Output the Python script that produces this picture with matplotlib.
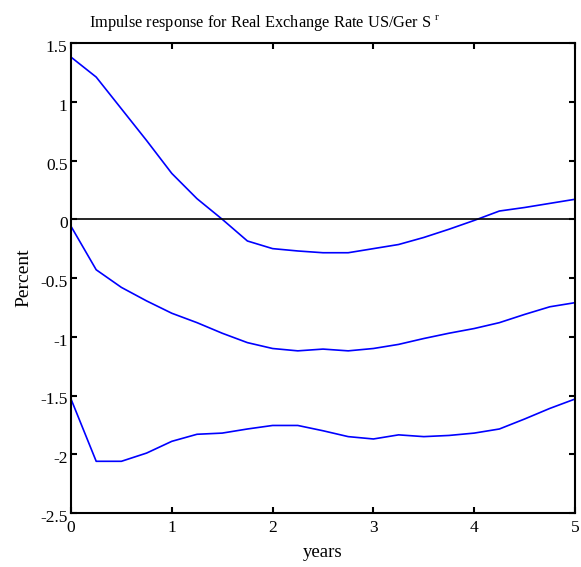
import numpy as np
import matplotlib
matplotlib.use('Agg')
import matplotlib.pyplot as plt
import matplotlib.transforms as mtransforms

#%% data

years = np.arange(0, 5.01, 0.25)

irf_upper = [1.38, 1.21, 0.94, 0.67, 0.39, 0.175, 0.0, -0.185, -0.25, -0.27, -0.285,
             -0.285, -0.25, -0.215, -0.155, -0.085, -0.01, 0.07, 0.10, 0.135, 0.17]
irf_mid = [-0.06, -0.43, -0.58, -0.695, -0.80, -0.88, -0.97, -1.05, -1.10, -1.12, -1.105,
           -1.12, -1.10, -1.065, -1.015, -0.97, -0.93, -0.88, -0.81, -0.745, -0.71]
irf_lower = [-1.53, -2.06, -2.06, -1.99, -1.89, -1.83, -1.82, -1.785, -1.755, -1.755, -1.80,
             -1.85, -1.87, -1.835, -1.85, -1.84, -1.82, -1.785, -1.70, -1.61, -1.53]

xticks = [0, 1, 2, 3, 4, 5]
yticks = [-2.5, -2, -1.5, -1, -0.5, 0, 0.5, 1, 1.5]
yticklabels = ['-2.5', '-2', '-1.5', '-1', '-0.5', '0', '0.5', '1', '1.5']

#%% plot

plt.rcParams['font.family'] = 'Liberation Serif'
plt.rcParams['mathtext.fontset'] = 'custom'
plt.rcParams['mathtext.rm'] = 'Liberation Serif'

fig = plt.figure(figsize=(5.81, 5.67), dpi=100)
ax = fig.add_axes([71/581, 54/567, 504/581, 470/567])

for y in (irf_upper, irf_mid, irf_lower):
    ax.plot(years, y, color='#0000ff', lw=1.2)
ax.axhline(0, color='black', lw=1.2)

ax.set_xlim(0, 5)
ax.set_ylim(-2.5, 1.5)
ax.set_xticks(xticks)
ax.set_yticks(yticks)
ax.set_yticklabels(yticklabels)
ax.tick_params(direction='in', length=4, width=1.5, top=True, right=True,
               labelsize=12.5)
ax.tick_params(axis='x', pad=5)
ax.tick_params(axis='y', pad=2.5)
for s in ax.spines.values():
    s.set_linewidth(1.5)

# y tick labels sit slightly below their ticks
shift = mtransforms.ScaledTranslation(0, -3/100, fig.dpi_scale_trans)
for lab in ax.get_yticklabels():
    lab.set_transform(lab.get_transform() + shift)

# title sits a bit left of centre
fig.text(89/581, 1 - 27/567, 'Impulse response for Real Exchange Rate US/Ger S $^{\\rm r}$',
         fontsize=11.8, ha='left', va='baseline')
ax.set_xlabel('years', fontsize=13.5)
ax.xaxis.set_label_coords(0.5, -0.065)
ax.set_ylabel('Percent', fontsize=14)
ax.yaxis.set_label_coords(-0.077, 0.5)

fig.savefig('out.png', dpi=100)
